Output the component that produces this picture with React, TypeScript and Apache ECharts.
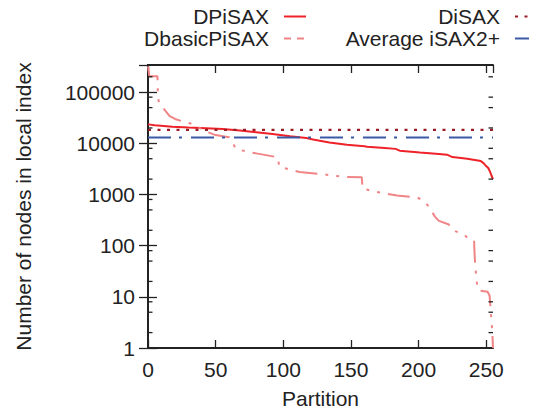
import React, { useEffect, useRef } from "react";
import * as echarts from "echarts";

// ---- data ----
const dpisaxX = [0, 5, 18, 30, 43, 55, 68, 80, 92, 105, 117, 122, 134, 147, 160, 162, 175, 183, 186, 201, 215, 221, 225, 236, 246, 248, 249.5, 251.5, 253, 254, 255];
const dpisaxY = [23500, 22500, 21200, 20500, 19800, 19000, 17800, 16500, 15300, 13800, 12700, 11900, 10400, 9400, 8800, 8600, 8100, 7800, 7200, 6650, 6200, 6000, 5400, 5000, 4500, 4100, 3700, 3300, 2700, 2300, 2000];

const basicX = [0, 1, 7, 7.3, 8, 12, 16, 20, 26, 31, 38, 43, 50, 60, 62, 65, 73, 81, 95, 96, 97, 112, 127, 144, 158, 158.6, 169, 184, 199, 204, 208, 212, 215, 222, 226, 233, 238, 241, 241.5, 242.6, 243.5, 244.5, 251, 252.5, 253, 254, 254.5, 255];
const basicY = [320000, 205000, 204000, 93000, 62000, 46000, 34000, 30000, 26500, 24700, 20000, 17000, 14500, 13200, 10900, 7800, 6900, 6300, 5400, 5300, 3500, 2750, 2530, 2220, 2180, 1300, 1120, 960, 870, 760, 560, 370, 306, 263, 196, 170, 130, 126, 60, 23, 15.7, 13.3, 12.6, 10.5, 7, 3, 2, 1];

const disaxX = [0, 255];
const disaxY = [18300, 18300];

const avgX = [0, 255];
const avgY = [13000, 13000];

const xMin = 0;
const xMax = 255;
const yMin = 1;
const yMax = 340000;
const xInterval = 50;
const minorTickValues = [2, 5, 8, 20, 50, 80, 200, 500, 800, 2000, 5000, 8000, 20000, 50000, 80000, 200000];

const pairs = (xs: number[], ys: number[]) => xs.map((x, i) => [x, ys[i]]);

const FONT = "'Liberation Sans', Arial, Helvetica, sans-serif";
const INK = "#222222";

export default function App() {
  const ref = useRef<HTMLDivElement>(null);
  useEffect(() => {
    if (!ref.current) return;
    const chart = echarts.init(ref.current, undefined, { renderer: "svg" });
    const legendCommon = {
      orient: "vertical" as const,
      align: "right" as const,
      top: 6,
      itemHeight: 10,
      itemGap: 1,
      padding: 0,
      selectedMode: false,
      itemStyle: { opacity: 0 },
      textStyle: { fontSize: 21, color: INK, fontFamily: FONT, padding: [0, 10, 0, 0] },
    };
    chart.setOption({
      animation: false,
      textStyle: { fontFamily: FONT },
      grid: { left: 148, right: 41, top: 65, bottom: 64 },
      legend: [
        {
          ...legendCommon,
          right: 227,
          itemWidth: 22,
          data: [{ name: "DPiSAX" }, { name: "DbasicPiSAX", lineStyle: { type: [7, 6] } }],
        },
        {
          ...legendCommon,
          right: 4,
          itemWidth: 14,
          data: [{ name: "DiSAX" }, { name: "Average iSAX2+" }],
        },
      ],
      xAxis: [
        {
          type: "value",
          min: xMin,
          max: xMax,
          interval: xInterval,
          name: "Partition",
          nameLocation: "middle",
          nameGap: 40,
          nameTextStyle: { fontSize: 21, color: INK },
          axisLine: { show: true, lineStyle: { color: INK, width: 2 } },
          axisTick: { inside: true, length: 8, lineStyle: { color: INK, width: 1.3 } },
          axisLabel: { fontSize: 21, color: INK, margin: 11, showMaxLabel: false },
          splitLine: { show: false },
        },
        {
          type: "value",
          position: "top",
          min: xMin,
          max: xMax,
          interval: xInterval,
          axisLine: { show: true, lineStyle: { color: INK, width: 2 } },
          axisTick: { inside: true, length: 8, lineStyle: { color: INK, width: 1.3 } },
          axisLabel: { show: false },
          splitLine: { show: false },
        },
      ],
      yAxis: [
        {
          type: "log",
          logBase: 10,
          min: yMin,
          max: yMax,
          name: "Number of nodes in local index",
          nameLocation: "middle",
          nameGap: 114,
          nameTextStyle: { fontSize: 21, color: INK },
          axisLine: { show: true, lineStyle: { color: INK, width: 2 } },
          axisTick: { inside: true, length: 9, lineStyle: { color: INK, width: 1.3 } },
          axisLabel: {
            fontSize: 21,
            color: INK,
            margin: 13,
            showMaxLabel: false,
            formatter: (v: number) => String(Math.round(v)),
          },
          splitLine: { show: false },
        },
        {
          type: "log",
          logBase: 10,
          position: "right",
          min: yMin,
          max: yMax,
          axisLine: { show: true, lineStyle: { color: INK, width: 2 } },
          axisTick: { inside: true, length: 9, lineStyle: { color: INK, width: 1.3 } },
          axisLabel: { show: false },
          splitLine: { show: false },
        },
      ],
      series: [
        {
          name: "DPiSAX",
          type: "line",
          data: pairs(dpisaxX, dpisaxY),
          showSymbol: false,
          symbol: "none",
          lineStyle: { color: "#ee2228", width: 2 },
          itemStyle: { color: "#ee2228" },
          z: 3,
        },
        {
          name: "DbasicPiSAX",
          type: "line",
          data: pairs(basicX, basicY),
          showSymbol: false,
          symbol: "none",
          lineStyle: { color: "#f08486", width: 2, type: [22, 8, 3, 8, 3, 8] },
          itemStyle: { color: "#f08486" },
          z: 3,
        },
        {
          name: "DiSAX",
          type: "line",
          data: pairs(disaxX, disaxY),
          showSymbol: false,
          symbol: "none",
          lineStyle: { color: "#9a1c25", width: 2.3, type: [3, 6.5] },
          itemStyle: { color: "#9a1c25" },
          z: 3,
        },
        {
          name: "Average iSAX2+",
          type: "line",
          data: pairs(avgX, avgY),
          showSymbol: false,
          symbol: "none",
          lineStyle: { color: "#3a5aa6", width: 2, type: [23, 8, 3, 9] },
          itemStyle: { color: "#3a5aa6" },
          z: 3,
        },
        {
          name: "minorTicks",
          type: "custom",
          data: minorTickValues.map((v) => [xMin, v]),
          silent: true,
          z: 4,
          renderItem: (_params: any, api: any) => {
            const v = api.value(1);
            const pl = api.coord([xMin, v]);
            const pr = api.coord([xMax, v]);
            return {
              type: "group",
              children: [
                {
                  type: "line",
                  shape: { x1: pl[0], y1: pl[1], x2: pl[0] + 4.5, y2: pl[1] },
                  style: { stroke: INK, lineWidth: 1.3 },
                },
                {
                  type: "line",
                  shape: { x1: pr[0] - 4.5, y1: pr[1], x2: pr[0], y2: pr[1] },
                  style: { stroke: INK, lineWidth: 1.3 },
                },
              ],
            };
          },
        },
      ],
    });
    return () => chart.dispose();
  }, []);
  return (
    <div
      ref={ref}
      style={{ position: "absolute", left: 0, top: 0, width: 534, height: 414 }}
    />
  );
}
